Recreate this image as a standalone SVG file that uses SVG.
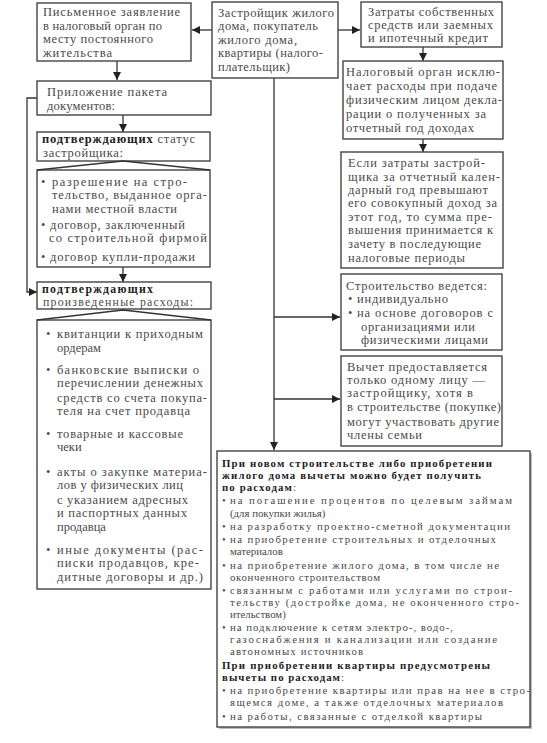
<svg xmlns="http://www.w3.org/2000/svg" width="547" height="743" viewBox="0 0 547 743">
<defs>
<marker id="ah" viewBox="0 0 10 10" refX="10" refY="5" markerWidth="8" markerHeight="8" markerUnits="userSpaceOnUse" orient="auto">
<path d="M0,0 L10,5 L0,10 z" fill="#222"/>
</marker>
<style>
.box{fill:#fff;stroke:#444;stroke-width:1.4}
text{font-family:"Liberation Serif","Times New Roman","DejaVu Serif",serif;fill:#4a4a4a}
.t{font-size:12.5px}
.u{font-size:11.8px}
.s{font-size:10.8px}
.b{font-weight:bold;fill:#222}
.c{fill:none;stroke:#333;stroke-width:1.3}
</style>
</defs>
<rect width="547" height="743" fill="#fff"/>

<g id="connectors">
<line class="c" x1="212" y1="30" x2="192" y2="30" marker-end="url(#ah)"/>
<line class="c" x1="338" y1="30" x2="360" y2="30" marker-end="url(#ah)"/>
<line class="c" x1="117" y1="61" x2="117" y2="80" marker-end="url(#ah)"/>
<line class="c" x1="423" y1="47" x2="423" y2="61" marker-end="url(#ah)"/>
<line class="c" x1="423" y1="139" x2="423" y2="152" marker-end="url(#ah)"/>
<line class="c" x1="123" y1="115" x2="123" y2="132" marker-end="url(#ah)"/>
<line class="c" x1="123" y1="267" x2="123" y2="282" marker-end="url(#ah)"/>
<polyline class="c" points="37,98 27,98 27,292 37,292" marker-end="url(#ah)"/>
<line class="c" x1="274" y1="78" x2="274" y2="450" marker-end="url(#ah)"/>
<line class="c" x1="274" y1="317" x2="340" y2="317" marker-end="url(#ah)"/>
<line class="c" x1="274" y1="399" x2="340" y2="399" marker-end="url(#ah)"/>
</g>

<g id="n-zayavlenie">
<rect class="box" x="37" y="3" width="154" height="58"/>
<text class="t" x="43" y="16" textLength="137" lengthAdjust="spacing">Письменное заявление</text>
<text class="t" x="43" y="30" textLength="119" lengthAdjust="spacing">в налоговый орган по</text>
<text class="t" x="43" y="43" textLength="110" lengthAdjust="spacing">месту постоянного</text>
<text class="t" x="43" y="57" textLength="69" lengthAdjust="spacing">жительства</text>
</g>

<g id="n-zastroyshik">
<rect class="box" x="212" y="2" width="126" height="76"/>
<text class="t" x="218" y="17" textLength="116" lengthAdjust="spacing">Застройщик жилого</text>
<text class="t" x="218" y="30" textLength="100" lengthAdjust="spacing">дома, покупатель</text>
<text class="t" x="218" y="44" textLength="79" lengthAdjust="spacing">жилого дома,</text>
<text class="t" x="218" y="57" textLength="105" lengthAdjust="spacing">квартиры (налого-</text>
<text class="t" x="218" y="71" textLength="72" lengthAdjust="spacing">плательщик)</text>
</g>

<g id="n-zatraty">
<rect class="box" x="361" y="2" width="141" height="45"/>
<text class="t" x="368" y="16" textLength="126" lengthAdjust="spacing">Затраты собственных</text>
<text class="t" x="368" y="29" textLength="125" lengthAdjust="spacing">средств или заемных</text>
<text class="t" x="368" y="42" textLength="120" lengthAdjust="spacing">и ипотечный кредит</text>
</g>

<g id="n-nalog">
<rect class="box" x="343" y="61" width="160" height="78"/>
<text class="t" x="346" y="76" textLength="154" lengthAdjust="spacing">Налоговый орган исклю-</text>
<text class="t" x="346" y="90" textLength="151" lengthAdjust="spacing">чает расходы при подаче</text>
<text class="t" x="346" y="104" textLength="156" lengthAdjust="spacing">физическим лицом декла-</text>
<text class="t" x="346" y="118" textLength="140" lengthAdjust="spacing">рации о полученных за</text>
<text class="t" x="346" y="132" textLength="128" lengthAdjust="spacing">отчетный год доходах</text>
</g>

<g id="n-esli">
<rect class="box" x="341" y="152" width="162" height="116"/>
<text class="t" x="348" y="167" textLength="137" lengthAdjust="spacing">Если затраты застрой-</text>
<text class="t" x="348" y="181" textLength="152" lengthAdjust="spacing">щика за отчетный кален-</text>
<text class="t" x="348" y="194" textLength="140" lengthAdjust="spacing">дарный год превышают</text>
<text class="t" x="348" y="207" textLength="149" lengthAdjust="spacing">его совокупный доход за</text>
<text class="t" x="348" y="221" textLength="144" lengthAdjust="spacing">этот год, то сумма пре-</text>
<text class="t" x="348" y="234" textLength="145" lengthAdjust="spacing">вышения принимается к</text>
<text class="t" x="348" y="248" textLength="133" lengthAdjust="spacing">зачету в последующие</text>
<text class="t" x="348" y="262" textLength="117" lengthAdjust="spacing">налоговые периоды</text>
</g>

<g id="n-stroitelstvo">
<rect class="box" x="341" y="274" width="161" height="76"/>
<text class="t" x="346" y="290" textLength="141" lengthAdjust="spacing">Строительство ведется:</text>
<text class="t" x="348" y="303">•</text>
<text class="t" x="357" y="303" textLength="91" lengthAdjust="spacing">индивидуально</text>
<text class="t" x="348" y="317">•</text>
<text class="t" x="357" y="317" textLength="136" lengthAdjust="spacing">на основе договоров с</text>
<text class="t" x="361" y="331" textLength="114" lengthAdjust="spacing">организациями или</text>
<text class="t" x="361" y="344" textLength="127" lengthAdjust="spacing">физическими лицами</text>
</g>

<g id="n-vychet">
<rect class="box" x="341" y="356" width="161" height="90"/>
<text class="t" x="347" y="371" textLength="140" lengthAdjust="spacing">Вычет предоставляется</text>
<text class="t" x="347" y="384" textLength="138" lengthAdjust="spacing">только одному лицу —</text>
<text class="t" x="347" y="397" textLength="126" lengthAdjust="spacing">застройщику, хотя в</text>
<text class="t" x="347" y="411" textLength="154" lengthAdjust="spacing">в строительстве (покупке)</text>
<text class="t" x="347" y="426" textLength="152" lengthAdjust="spacing">могут участвовать другие</text>
<text class="t" x="347" y="439" textLength="75" lengthAdjust="spacing">члены семьи</text>
</g>

<g id="n-prilozhenie">
<rect class="box" x="37" y="81" width="174" height="34"/>
<text class="t" x="47" y="96" textLength="120" lengthAdjust="spacing">Приложение пакета</text>
<text class="t" x="47" y="110" textLength="68" lengthAdjust="spacing">документов:</text>
</g>

<g id="n-status">
<rect class="box" x="37" y="132" width="173" height="29"/>
<text class="t" x="42" y="143" textLength="153" lengthAdjust="spacing"><tspan class="b">подтверждающих</tspan> статус</text>
<text class="t" x="43" y="157" textLength="80" lengthAdjust="spacing">застройщика:</text>
</g>

<g id="n-status-list">
<rect class="box" x="37" y="170" width="173" height="97"/>
<polyline class="c" points="37,170 123,161 210,170"/>
<text class="t" x="41" y="186">•</text>
<text class="t" x="52" y="186" textLength="135" lengthAdjust="spacing">разрешение на стро-</text>
<text class="t" x="52" y="199" textLength="155" lengthAdjust="spacing">тельство, выданное орга-</text>
<text class="t" x="52" y="213" textLength="125" lengthAdjust="spacing">нами местной власти</text>
<text class="t" x="41" y="229">•</text>
<text class="t" x="50" y="229" textLength="135" lengthAdjust="spacing">договор, заключенный</text>
<text class="t" x="49" y="242" textLength="158" lengthAdjust="spacing">со строительной фирмой</text>
<text class="t" x="41" y="261">•</text>
<text class="t" x="50" y="261" textLength="145" lengthAdjust="spacing">договор купли-продажи</text>
</g>

<g id="n-raskhody">
<rect class="box" x="37" y="282" width="174" height="27"/>
<text class="u b" x="42" y="293" textLength="111" lengthAdjust="spacing">подтверждающих</text>
<text class="u" x="43" y="306" textLength="150" lengthAdjust="spacing">произведенные расходы:</text>
</g>

<g id="n-raskhody-list">
<rect class="box" x="37" y="320" width="174" height="269"/>
<polyline class="c" points="37,320 123,310 211,320"/>
<text class="t" x="46" y="338">•</text>
<text class="t" x="57" y="338" textLength="146" lengthAdjust="spacing">квитанции к приходным</text>
<text class="t" x="57" y="352">ордерам</text>
<text class="t" x="46" y="374">•</text>
<text class="t" x="57" y="374" textLength="142" lengthAdjust="spacing">банковские выписки о</text>
<text class="t" x="57" y="387" textLength="146" lengthAdjust="spacing">перечислении денежных</text>
<text class="t" x="57" y="402" textLength="150" lengthAdjust="spacing">средств со счета покупа-</text>
<text class="t" x="57" y="415" textLength="133" lengthAdjust="spacing">теля на счет продавца</text>
<text class="t" x="46" y="438">•</text>
<text class="t" x="57" y="438" textLength="126" lengthAdjust="spacing">товарные и кассовые</text>
<text class="t" x="57" y="451">чеки</text>
<text class="t" x="46" y="476">•</text>
<text class="t" x="57" y="476" textLength="150" lengthAdjust="spacing">акты о закупке материа-</text>
<text class="t" x="57" y="489" textLength="126" lengthAdjust="spacing">лов у физических лиц</text>
<text class="t" x="57" y="504" textLength="131" lengthAdjust="spacing">с указанием адресных</text>
<text class="t" x="57" y="517" textLength="130" lengthAdjust="spacing">и паспортных данных</text>
<text class="t" x="57" y="531">продавца</text>
<text class="t" x="46" y="554">•</text>
<text class="t" x="57" y="554" textLength="146" lengthAdjust="spacing">иные документы (рас-</text>
<text class="t" x="57" y="567" textLength="142" lengthAdjust="spacing">писки продавцов, кре-</text>
<text class="t" x="57" y="581" textLength="146" lengthAdjust="spacing">дитные договоры и др.)</text>
</g>

<g id="n-vychety">
<rect x="219" y="453" width="313" height="276" fill="#bbb"/>
<rect class="box" x="217" y="451" width="313" height="276"/>
<text class="s b" x="222" y="467" textLength="270" lengthAdjust="spacing">При новом строительстве либо приобретении</text>
<text class="s b" x="222" y="479" textLength="259" lengthAdjust="spacing">жилого дома вычеты можно будет получить</text>
<text class="s" x="222" y="491" textLength="74" lengthAdjust="spacing"><tspan class="b">по расходам</tspan>:</text>
<text class="s" x="222" y="504">•</text>
<text class="s" x="230" y="504" textLength="282" lengthAdjust="spacing">на погашение процентов по целевым займам</text>
<text class="s" x="230" y="517">(для покупки жилья)</text>
<text class="s" x="222" y="530">•</text>
<text class="s" x="230" y="530" textLength="280" lengthAdjust="spacing">на разработку проектно-сметной документации</text>
<text class="s" x="222" y="543">•</text>
<text class="s" x="230" y="543" textLength="266" lengthAdjust="spacing">на приобретение строительных и отделочных</text>
<text class="s" x="230" y="555">материалов</text>
<text class="s" x="222" y="569">•</text>
<text class="s" x="230" y="569" textLength="269" lengthAdjust="spacing">на приобретение жилого дома, в том числе не</text>
<text class="s" x="230" y="581" textLength="150" lengthAdjust="spacing">оконченного строительством</text>
<text class="s" x="222" y="594">•</text>
<text class="s" x="230" y="594" textLength="282" lengthAdjust="spacing">связанным с работами или услугами по строи-</text>
<text class="s" x="230" y="606" textLength="289" lengthAdjust="spacing">тельству (достройке дома, не оконченного стро-</text>
<text class="s" x="230" y="618">ительством)</text>
<text class="s" x="222" y="631">•</text>
<text class="s" x="230" y="631" textLength="223" lengthAdjust="spacing">на подключение к сетям электро-, водо-,</text>
<text class="s" x="230" y="643" textLength="267" lengthAdjust="spacing">газоснабжения и канализации или создание</text>
<text class="s" x="230" y="655" textLength="133" lengthAdjust="spacing">автономных источников</text>
<text class="s b" x="222" y="669" textLength="268" lengthAdjust="spacing">При приобретении квартиры предусмотрены</text>
<text class="s" x="222" y="681" textLength="122" lengthAdjust="spacing"><tspan class="b">вычеты по расходам</tspan>:</text>
<text class="s" x="222" y="694">•</text>
<text class="s" x="230" y="694" textLength="300" lengthAdjust="spacing">на приобретение квартиры или прав на нее в стро-</text>
<text class="s" x="230" y="706" textLength="273" lengthAdjust="spacing">ящемся доме, а также отделочных материалов</text>
<text class="s" x="222" y="720">•</text>
<text class="s" x="230" y="720" textLength="252" lengthAdjust="spacing">на работы, связанные с отделкой квартиры</text>
</g>
</svg>
